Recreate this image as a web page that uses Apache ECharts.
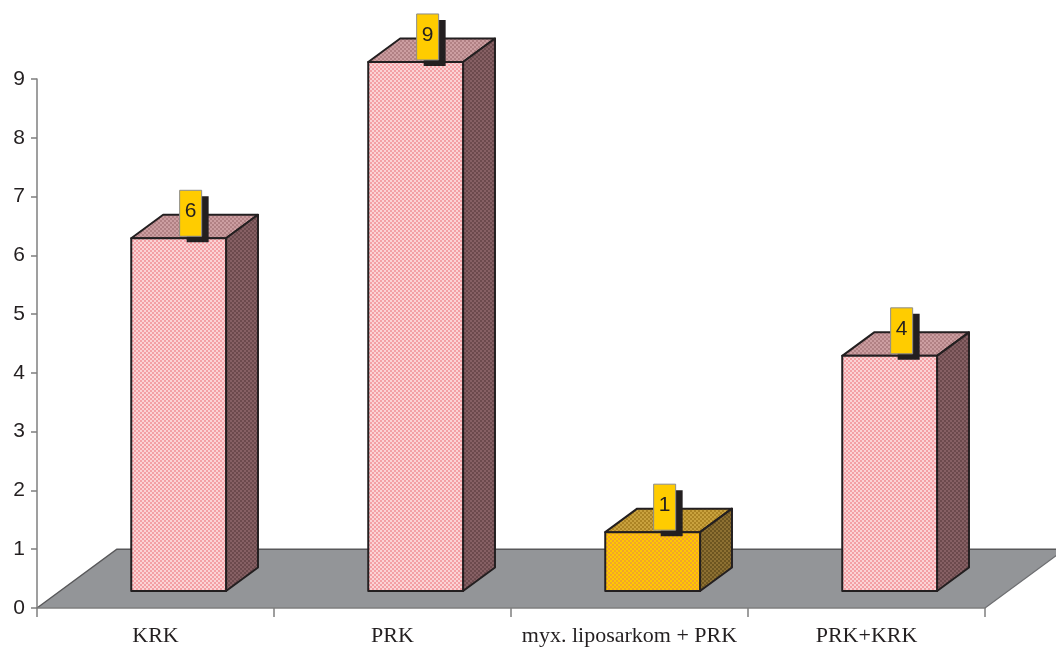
<!DOCTYPE html>
<html>
<head>
<meta charset="utf-8">
<script src="https://cdn.jsdelivr.net/npm/echarts@6/dist/echarts.min.js"></script>
<style>
  html, body { margin: 0; padding: 0; background: #ffffff; }
  #chart { width: 1056px; height: 652px; }
</style>
</head>
<body>
<div id="chart"></div>
<script>
// Tumour types and case counts
const categories = ['KRK', 'PRK', 'myx. liposarkom + PRK', 'PRK+KRK'];
const counts = [6, 9, 1, 4];
const yTicks = [0, 1, 2, 3, 4, 5, 6, 7, 8, 9];

const highlighted = 'myx. liposarkom + PRK';

// Small checker patterns that give the faces their dithered look
function checker(a, b, cell) {
  const c = document.createElement('canvas');
  c.width = cell * 2; c.height = cell * 2;
  const g = c.getContext('2d');
  g.fillStyle = a; g.fillRect(0, 0, cell * 2, cell * 2);
  g.fillStyle = b;
  g.fillRect(0, 0, cell, cell);
  g.fillRect(cell, cell, cell, cell);
  return { image: c, repeat: 'repeat' };
}
const pinkFaces = {
  front: checker('#fbd3d5', '#f3a0a5', 2),
  top: checker('#cc9ea1', '#b18184', 2),
  side: checker('#866064', '#6c4a4d', 2)
};
const goldFaces = {
  front: checker('#ffc800', '#f2a52a', 2),
  top: checker('#c9a23e', '#ac8424', 2),
  side: checker('#8d7032', '#6d5520', 2)
};

const EDGE = '#231f20';

// Depth geometry, in units of one y step
function geometry(api) {
  const unit = api.size([0, 1])[1];
  const band = api.size([1, 0])[0];
  return {
    unit: unit,
    band: band,
    floorDx: unit * 1.358, floorDy: -unit,
    frontFrac: 0.29, depthFrac: 0.40,
    halfW: band * 0.2
  };
}

function renderFloor(params, api) {
  const g = geometry(api);
  const first = api.coord([0, 0]);
  const last = api.coord([categories.length - 1, 0]);
  const x0 = first[0] - g.band / 2, x1 = last[0] + g.band / 2, y0 = first[1];
  return {
    type: 'group',
    children: [
      {
        type: 'polygon',
        shape: { points: [[x0, y0], [x0 + g.floorDx, y0 + g.floorDy], [x1 + g.floorDx, y0 + g.floorDy], [x1, y0]] },
        style: { fill: '#939598', stroke: null }
      },
      {
        type: 'polyline',
        shape: { points: [[x0, y0], [x0 + g.floorDx, y0 + g.floorDy], [x1 + g.floorDx, y0 + g.floorDy]] },
        style: { fill: null, stroke: '#58585a', lineWidth: 1.5 }
      },
      {
        type: 'line',
        shape: { x1: x1, y1: y0, x2: x1 + g.floorDx, y2: y0 + g.floorDy },
        style: { stroke: '#6d6e71', lineWidth: 1.2 }
      }
    ]
  };
}

function renderBar(params, api) {
  const g = geometry(api);
  const idx = api.value(0);
  const val = api.value(1);
  const base = api.coord([idx, 0]);
  const top = api.coord([idx, val]);
  const ox = g.floorDx * g.frontFrac, oy = g.floorDy * g.frontFrac;
  const dx = g.floorDx * g.depthFrac, dy = g.floorDy * g.depthFrac;
  const L = base[0] - g.halfW + ox, R = base[0] + g.halfW + ox;
  const B = base[1] + oy, T = top[1] + oy;
  const faces = categories[idx] === highlighted ? goldFaces : pinkFaces;
  const edge = { stroke: EDGE, lineWidth: 2, lineJoin: 'round' };

  const cx = (L + R) / 2 + 12;
  const cy = T - 25;
  const bw = 22, bh = 46;

  return {
    type: 'group',
    children: [
      { type: 'polygon', shape: { points: [[L, T], [L + dx, T + dy], [R + dx, T + dy], [R, T]] },
        style: Object.assign({ fill: faces.top }, edge) },
      { type: 'polygon', shape: { points: [[R, T], [R + dx, T + dy], [R + dx, B + dy], [R, B]] },
        style: Object.assign({ fill: faces.side }, edge) },
      { type: 'rect', shape: { x: L, y: T, width: R - L, height: B - T },
        style: Object.assign({ fill: faces.front }, edge) },
      // value tag with drop shadow
      { type: 'rect', shape: { x: cx - bw / 2 + 7, y: cy - bh / 2 + 6, width: bw, height: bh },
        style: { fill: '#231f20' } },
      { type: 'rect', shape: { x: cx - bw / 2, y: cy - bh / 2, width: bw, height: bh },
        style: { fill: '#ffcc00', stroke: '#8c8c8c', lineWidth: 1 } },
      { type: 'text', x: cx, y: cy - 2,
        style: { text: String(val), fill: '#231f20', font: '21px "Liberation Sans", Arial, sans-serif',
                 align: 'center', verticalAlign: 'middle' } }
    ]
  };
}

const chart = echarts.init(document.getElementById('chart'), null, { renderer: 'canvas' });

chart.setOption({
  animation: false,
  backgroundColor: '#ffffff',
  grid: { left: 37, right: 71, top: 79, bottom: 44, containLabel: false },
  xAxis: {
    type: 'category',
    data: categories,
    boundaryGap: true,
    axisLine: { show: true, lineStyle: { color: '#7f7f7f', width: 1.5 } },
    axisTick: { show: true, interval: 0, length: 9, lineStyle: { color: '#7f7f7f', width: 1.5 } },
    axisLabel: {
      interval: 0, margin: 17, color: '#231f20',
      fontFamily: '"Liberation Serif", "Times New Roman", serif', fontSize: 22
    },
    splitLine: { show: false },
    z: 10
  },
  yAxis: {
    type: 'value',
    min: 0, max: 9, interval: 1,
    axisLine: { show: true, lineStyle: { color: '#7f7f7f', width: 1.5 } },
    axisTick: { show: true, length: 6, lineStyle: { color: '#7f7f7f', width: 1.5 } },
    axisLabel: {
      margin: 12, color: '#231f20',
      fontFamily: '"Liberation Sans", Arial, sans-serif', fontSize: 21,
      formatter: function (v) { return yTicks.indexOf(v) >= 0 ? String(v) : ''; }
    },
    splitLine: { show: false }
  },
  series: [
    {
      type: 'custom',
      renderItem: renderFloor,
      data: [[0, 0]],
      clip: false,
      z: 1,
      silent: true
    },
    {
      type: 'custom',
      renderItem: renderBar,
      data: counts.map(function (v, i) { return [i, v]; }),
      encode: { x: 0, y: 1 },
      clip: false,
      z: 5
    }
  ]
});
</script>
</body>
</html>
